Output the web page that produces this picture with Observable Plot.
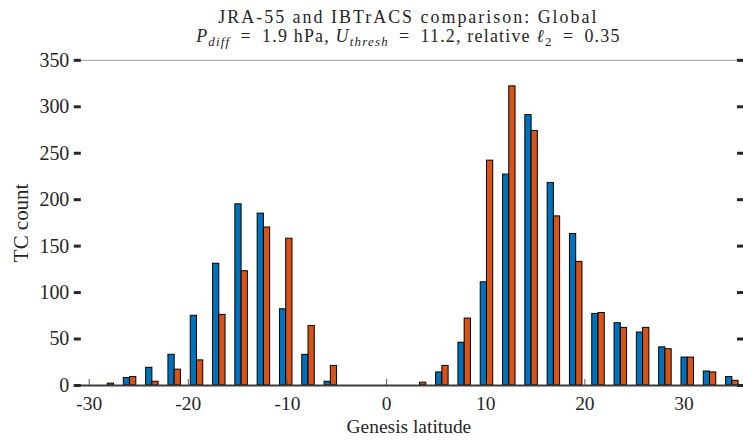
<!DOCTYPE html>
<html><head><meta charset="utf-8">
<script src="https://cdn.jsdelivr.net/npm/d3@7"></script>
<script src="https://cdn.jsdelivr.net/npm/@observablehq/plot@0.6"></script>
<style>
html,body{margin:0;padding:0;background:#fff;overflow:hidden}
#wrap{position:relative;width:743px;height:440px;overflow:hidden}
#chart{position:absolute;left:0;top:0}
</style></head><body>
<div id="wrap"><div id="chart"></div></div>
<script>
// Bin centres (genesis latitude, degrees)
const latitudes = [-30.375, -28.125, -25.875, -23.625, -21.375, -19.125, -16.875, -14.625, -12.375, -10.125,
  -7.875, -5.625, -3.375, -1.125, 1.125, 3.375, 5.625, 7.875, 10.125, 12.375,
  14.625, 16.875, 19.125, 21.375, 23.625, 25.875, 28.125, 30.375, 32.625, 34.875];
// JRA-55 TC counts (blue)
const jra55Counts = [0, 0, 8, 19, 33, 75, 131, 195, 185, 82,
  33, 4, 0, 0, 0, 0, 14, 46, 111, 227,
  291, 218, 163, 77, 67, 57, 41, 30, 15, 9];
// IBTrACS TC counts (orange)
const ibtracsCounts = [0, 2, 9, 4, 17, 27, 76, 123, 170, 158,
  64, 21, 0, 0, 0, 3, 21, 72, 242, 322,
  274, 182, 133, 78, 62, 62, 39, 30, 14, 5];
const xTicks = [-30, -20, -10, 0, 10, 20, 30];
const yTicks = [0, 50, 100, 150, 200, 250, 300, 350];
const titleText = "JRA-55 and IBTrACS comparison: Global";
const subtitleParts = [
  {t: "P", it: true}, {t: "diff", it: true, sub: true}, {t: "\u2002=\u20021.9 hPa, "},
  {t: "U", it: true}, {t: "thresh", it: true, sub: true}, {t: "\u2002=\u200211.2, relative "},
  {t: "\u2113", it: true}, {t: "2", sub: true}, {t: "\u2002=\u20020.35"}
];
const xLabel = "Genesis latitude";
const yLabel = "TC count";
const barWidth = 0.63;
const FONT = '"Liberation Serif", "DejaVu Serif", serif';
const INK = "#262626";

const rows = latitudes.map((lat, i) => ({lat, jra: jra55Counts[i], ib: ibtracsCounts[i]}));

const chart = Plot.plot({
  width: 745, height: 440,
  marginLeft: 74, marginRight: 0, marginTop: 60, marginBottom: 54,
  style: {fontFamily: FONT, fontSize: "20px", color: INK, background: "transparent", overflow: "visible"},
  x: {domain: [-31.5, 36], axis: null},
  y: {domain: [0, 350], axis: null},
  marks: [
    Plot.rect(rows, {x1: d => d.lat - barWidth, x2: d => d.lat, y1: 0, y2: "jra", fill: "#0072BD", stroke: "#000", strokeWidth: 1}),
    Plot.rect(rows, {x1: d => d.lat, x2: d => d.lat + barWidth, y1: 0, y2: "ib", fill: "#D95319", stroke: "#000", strokeWidth: 1}),
    Plot.ruleY([350], {stroke: "#9a9a9a", strokeWidth: 1}),
    Plot.ruleY([0], {stroke: "#3a3a3a", strokeWidth: 2}),
    Plot.axisX({ticks: xTicks, tickSize: -6, tickFormat: () => "", stroke: "#555", strokeWidth: 1, label: null}),
    Plot.axisX({ticks: xTicks, tickSize: 0, tickPadding: 11, tickFormat: d => String(d), label: null, fill: INK, fontFamily: FONT, fontSize: 19.5, fontVariant: "normal"}),
    Plot.axisY({ticks: yTicks, tickSize: -7, line: true, stroke: INK, strokeWidth: 3, tickFormat: () => "", label: null}),
    Plot.axisY({ticks: yTicks, anchor: "right", tickSize: -7, stroke: INK, strokeWidth: 3, tickFormat: () => "", label: null}),
    Plot.axisY({ticks: yTicks, tickSize: 0, tickPadding: 5, tickFormat: d => String(d), label: null, fill: INK, fontFamily: FONT, fontSize: 20, fontVariant: "normal"}),
    Plot.text([yLabel], {frameAnchor: "left", dx: -53, rotate: -90, textAnchor: "middle", lineAnchor: "middle", fill: INK, fontFamily: FONT, fontSize: 21}),
    Plot.text([xLabel], {frameAnchor: "bottom", dy: 41, textAnchor: "middle", lineAnchor: "middle", fill: INK, fontFamily: FONT, fontSize: 19.5})
  ]
});

const svg = d3.select(chart);
const cx = 74 + (745 - 74) / 2;
svg.append("text")
  .attr("x", cx).attr("y", 23).attr("text-anchor", "middle")
  .attr("fill", INK)
  .style("font-family", FONT).style("font-size", "18px").style("letter-spacing", "2px")
  .text(titleText);
const sub = svg.append("text")
  .attr("x", cx).attr("y", 42).attr("text-anchor", "middle")
  .attr("fill", INK)
  .style("font-family", FONT).style("font-size", "18px").style("white-space", "pre").style("letter-spacing", "1.2px");
let shifted = false;
for (const p of subtitleParts) {
  const ts = sub.append("tspan").text(p.t);
  if (p.it) ts.style("font-style", "italic");
  if (p.sub && !shifted) { ts.attr("dy", 4).style("font-size", "13px"); shifted = true; }
  else if (p.sub) { ts.style("font-size", "13px"); }
  else if (shifted) { ts.attr("dy", -4); shifted = false; }
}
document.getElementById("chart").appendChild(chart);
</script>
</body></html>
